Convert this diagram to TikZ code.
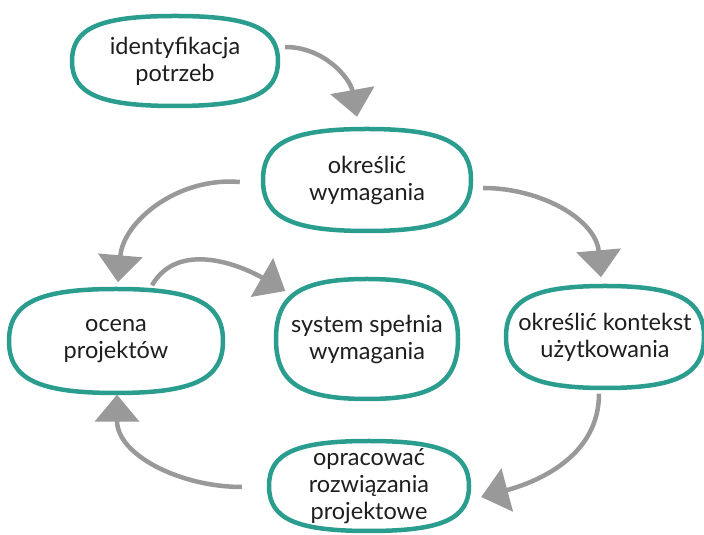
\documentclass[tikz,border=0pt]{standalone}
\usepackage{fontspec}
\setmainfont{Lato}
\usetikzlibrary{arrows.meta,calc}
\definecolor{tealline}{HTML}{2A9D8F}
\definecolor{arrgray}{HTML}{999999}
\definecolor{txt}{HTML}{1E1E1E}

\tikzset{
  stage/.style={rectangle, draw=none, align=center, inner sep=0pt,
    font=\fontsize{23.5}{27}\selectfont, text=txt},
  blobline/.style={draw=tealline, line width=4.5pt},
  flow/.style={draw=arrgray, line width=4.5pt,
    -{Triangle[length=27pt,width=44pt]}},
}
% rounded, squarish outline around a stage node: name, half width, half height
\newcommand\blob[3]{%
  \draw[blobline] ([shift={(0,#3)}]#1.center)
    .. controls ([shift={(0.73*#2,#3)}]#1.center) and ([shift={(#2,0.73*#3)}]#1.center)
    .. ([shift={(#2,0)}]#1.center)
    .. controls ([shift={(#2,-0.73*#3)}]#1.center) and ([shift={(0.73*#2,-#3)}]#1.center)
    .. ([shift={(0,-#3)}]#1.center)
    .. controls ([shift={(-0.73*#2,-#3)}]#1.center) and ([shift={(-#2,-0.73*#3)}]#1.center)
    .. ([shift={(-#2,0)}]#1.center)
    .. controls ([shift={(-#2,0.73*#3)}]#1.center) and ([shift={(-0.73*#2,#3)}]#1.center)
    .. cycle;}

\begin{document}
\begin{tikzpicture}[x=1pt,y=1pt]
  \useasboundingbox[fill=white] (0,0) rectangle (704,535);

  \node[stage, minimum width=206pt, minimum height=88pt]  (idp)  at (175,474) {identyfikacja\\potrzeb};
  \node[stage, minimum width=206pt, minimum height=100pt] (okw)  at (367,355) {określić\\wymagania};
  \node[stage, minimum width=213pt, minimum height=103pt] (ocn)  at (116,194) {ocena\\projektów};
  \node[stage, minimum width=181pt, minimum height=118pt] (sys)  at (367,196) {system spełnia\\wymagania};
  \node[stage, minimum width=196pt, minimum height=101pt] (kon)  at (605,198) {określić kontekst\\użytkowania};
  \node[stage, minimum width=198pt, minimum height=88pt]  (opr)  at (369,49)  {opracować\\rozwiązania\\projektowe};

  \blob{idp}{103}{45}
  \blob{okw}{104}{51}
  \blob{ocn}{107}{52}
  \blob{sys}{91}{60}
  \blob{kon}{99}{51}
  \blob{opr}{100}{45}

  \draw[flow] ([xshift=7pt,yshift=14pt]idp.east) to[out=0,in=100]
    ([xshift=-10pt,yshift=13pt]okw.north);
  \draw[flow] ([xshift=13pt,yshift=-8pt]okw.east) to[out=0,in=95]
    ([xshift=-4pt,yshift=9pt]kon.north);
  \draw[flow] ([xshift=-24pt,yshift=-2pt]okw.west) to[out=175,in=85]
    ([xshift=2pt,yshift=7pt]ocn.north);
  \draw[flow] ([xshift=36pt,yshift=4pt]ocn.north) to[out=60,in=150]
    ([xshift=9pt,yshift=48pt]sys.west);
  \draw[flow] ([xshift=-6pt,yshift=-6pt]kon.south) to[out=-90,in=15]
    ([xshift=13pt,yshift=-11pt]opr.east);
  \draw[flow] ([xshift=-28pt,yshift=-1pt]opr.west) to[out=180,in=-90]
    ([xshift=1pt,yshift=-2pt]ocn.south);
\end{tikzpicture}
\end{document}
